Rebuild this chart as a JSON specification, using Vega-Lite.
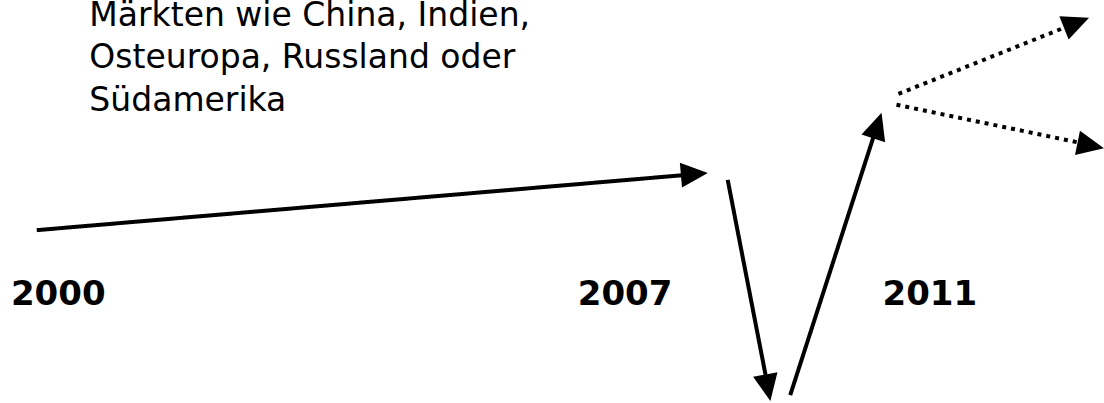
{
  "$schema": "https://vega.github.io/schema/vega-lite/v6.json",
  "width": 1104,
  "height": 403,
  "padding": 0,
  "autosize": {"type": "fit", "contains": "padding"},
  "background": "white",
  "config": {"view": {"stroke": null}},
  "datasets": {
    "segs": [
      {"seg": "a", "ord": 0, "x": 37, "y": 229, "style": "solid"},
      {"seg": "a", "ord": 1, "x": 692, "y": 173, "style": "solid"},
      {"seg": "b", "ord": 0, "x": 733, "y": 178, "style": "solid"},
      {"seg": "b", "ord": 1, "x": 772, "y": 380, "style": "solid"},
      {"seg": "c", "ord": 0, "x": 796, "y": 396, "style": "solid"},
      {"seg": "c", "ord": 1, "x": 881, "y": 131, "style": "solid"},
      {"seg": "d", "ord": 0, "x": 905, "y": 91, "style": "dotted"},
      {"seg": "d", "ord": 1, "x": 1077, "y": 22, "style": "dotted"},
      {"seg": "e", "ord": 0, "x": 903, "y": 102, "style": "dotted"},
      {"seg": "e", "ord": 1, "x": 1090, "y": 141, "style": "dotted"}
    ],
    "heads": [
      {"x": 713, "y": 171, "heading": -4.9},
      {"x": 776, "y": 402, "heading": 79.1},
      {"x": 888, "y": 110, "heading": -72.2},
      {"x": 1097, "y": 14, "heading": -21.9},
      {"x": 1112, "y": 146, "heading": 11.5}
    ],
    "notes": [
      {"x": 90, "y": 22, "text": "Märkten wie China, Indien,"},
      {"x": 90, "y": 65, "text": "Osteuropa, Russland oder"},
      {"x": 90, "y": 108, "text": "Südamerika"}
    ],
    "years": [
      {"x": 11, "y": 305, "text": "2000"},
      {"x": 582, "y": 305, "text": "2007"},
      {"x": 889, "y": 305, "text": "2011"}
    ]
  },
  "encoding": {
    "x": {"field": "x", "type": "quantitative", "axis": null, "scale": {"domain": [0, 1104], "nice": false, "zero": false}},
    "y": {"field": "y", "type": "quantitative", "axis": null, "scale": {"domain": [0, 403], "nice": false, "zero": false, "reverse": true}}
  },
  "layer": [
    {
      "data": {"name": "segs"},
      "mark": {"type": "line", "color": "black", "strokeWidth": 4, "strokeCap": "butt"},
      "encoding": {
        "detail": {"field": "seg", "type": "nominal"},
        "order": {"field": "ord", "type": "quantitative"},
        "strokeDash": {"field": "style", "type": "nominal", "legend": null, "scale": {"domain": ["solid", "dotted"], "range": [[1, 0], [4, 5]]}}
      }
    },
    {
      "data": {"name": "heads"},
      "mark": {"type": "point", "shape": "M0,0L-1,-0.46L-1,0.46Z", "filled": true, "size": 2916, "color": "black", "opacity": 1, "strokeWidth": 0},
      "encoding": {
        "angle": {"field": "heading", "type": "quantitative", "scale": null}
      }
    },
    {
      "data": {"name": "notes"},
      "mark": {"type": "text", "align": "left", "baseline": "alphabetic", "font": "DejaVu Sans", "fontSize": 33, "color": "black"},
      "encoding": {"text": {"field": "text"}}
    },
    {
      "data": {"name": "years"},
      "mark": {"type": "text", "align": "left", "baseline": "alphabetic", "font": "DejaVu Sans", "fontWeight": "bold", "fontSize": 34, "color": "black"},
      "encoding": {"text": {"field": "text"}}
    }
  ]
}
